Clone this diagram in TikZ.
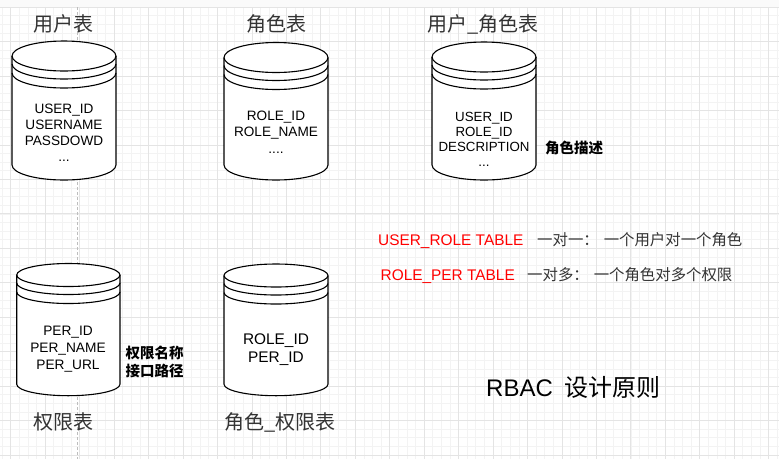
\documentclass[tikz,border=0pt]{standalone}
\usepackage{fontspec}
\setmainfont{Liberation Sans}
\newfontfamily\cjk{Noto Sans CJK SC}
\definecolor{gridminor}{HTML}{F3F3F3}
\definecolor{gridmajor}{HTML}{E4E4E4}
\definecolor{topstrip}{HTML}{FAFAFA}
\definecolor{guidegray}{HTML}{BDBDBD}
\definecolor{titlegray}{HTML}{333333}
\definecolor{notegray}{HTML}{333333}
\definecolor{redtxt}{HTML}{FF0000}
\newcommand\dstore[6]{%
  \pgfmathsetmacro\dcx{(#1+#3)/2}%
  \pgfmathsetmacro\drx{(#3-#1)/2}%
  \pgfmathsetmacro\dya{#2+#5}%
  \pgfmathsetmacro\dyb{#4-#5}%
  \pgfmathsetmacro\dyc{#2+#5+8}%
  \pgfmathsetmacro\dyd{#2+#5+17}%
  \pgfmathsetmacro\dym{(#2+#4)/2}%
  \fill[white] (#1,\dya) -- (#1,\dyb) arc[start angle=180,end angle=360,x radius=\drx pt,y radius=#5pt]
     -- (#3,\dya) arc[start angle=0,end angle=180,x radius=\drx pt,y radius=#5pt] -- cycle;
  \draw[dsline] (#1,\dya) -- (#1,\dyb) arc[start angle=180,end angle=360,x radius=\drx pt,y radius=#5pt] -- (#3,\dya);
  \draw[dsline] (\dcx,\dya) ellipse[x radius=\drx pt,y radius=#5pt];
  \draw[dsline] (#1,\dyc) arc[start angle=180,end angle=360,x radius=\drx pt,y radius=#5pt];
  \draw[dsline] (#1,\dyd) arc[start angle=180,end angle=360,x radius=\drx pt,y radius=#5pt];
  \coordinate (#6) at (\dcx,\dym);
}
\begin{document}
\begin{tikzpicture}[x=1pt,y=-1pt,
  dsline/.style={draw=black,line width=1.1pt},
  minorline/.style={draw=gridminor,line width=0.8pt},
  majorline/.style={draw=gridmajor,line width=0.9pt},
  guideline/.style={draw=guidegray,line width=0.8pt,dash pattern=on 3pt off 2pt},
  title/.style={font=\cjk\fontsize{20}{24}\selectfont,text=titlegray,inner sep=0pt},
  dtext/.style={align=center,inner sep=0pt,text=black},
  cnote/.style={font=\cjk\bfseries\fontsize{14.5}{17.4}\selectfont,text=black,inner sep=0pt,align=left},
  redlbl/.style={font=\fontsize{15.4}{18}\selectfont,text=redtxt,inner sep=0pt,anchor=base west},
  graylbl/.style={font=\cjk\fontsize{15.4}{18}\selectfont,text=notegray,inner sep=0pt,anchor=base west}]
\useasboundingbox (0,0) rectangle (779,459);
\fill[white] (0,0) rectangle (779,459);
\fill[topstrip] (0,0) rectangle (779,7.2);
% grid
\foreach \i in {0,...,90} {\draw[minorline] ({2.19+\i*8.6125},7.2) -- ({2.19+\i*8.6125},459);}
\foreach \j in {0,...,52} {\draw[minorline] (0,{7.2+\j*8.6125}) -- (779,{7.2+\j*8.6125});}
\foreach \k in {0,...,22} {\draw[majorline] ({10.8+\k*34.45},7.2) -- ({10.8+\k*34.45},459);}
\foreach \k in {0,...,13} {\draw[majorline] (0,{7.2+\k*34.45}) -- (779,{7.2+\k*34.45});}
% guide
\coordinate (gtop) at (77,7.2);
\coordinate (gbot) at (77,459);
\draw[guideline] (gtop) -- (gbot);
% cylinders
\dstore{12}{41}{116}{180}{15}{c1}
\dstore{224}{42.5}{328}{180}{15}{c2}
\dstore{432}{42}{536}{180}{15}{c3}
\dstore{16.7}{263.5}{120}{395.7}{11.5}{c4}
\dstore{224}{264}{328}{395.7}{11.5}{c5}
% titles
\node[title] (t1) at (63,24) {用户表};
\node[title] (t2) at (276.5,24) {角色表};
\node[title] (t3) at (483,24) {用户\_角色表};
\node[title] (t4) at (63,421.7) {权限表};
\node[title] (t5) at (280,422.7) {角色\_权限表};
% cylinder texts
\node[dtext,font=\fontsize{13.6}{16.3}\selectfont] (d1) at (64,132.7) {USER\_ID\\USERNAME\\PASSDOWD\\...};
\node[dtext,font=\fontsize{13.6}{16.5}\selectfont] (d2) at (276,131.9) {ROLE\_ID\\ROLE\_NAME\\....};
\node[dtext,font=\fontsize{13.3}{15}\selectfont] (d3) at (484,139.5) {USER\_ID\\ROLE\_ID\\DESCRIPTION\\...};
\node[dtext,font=\fontsize{13.7}{17.2}\selectfont] (d4) at (68,349) {PER\_ID\\PER\_NAME\\PER\_URL};
\node[dtext,font=\fontsize{15.4}{18.3}\selectfont] (d5) at (276,349.5) {ROLE\_ID\\PER\_ID};
% notes
\node[cnote] (n1) at (574,148) {角色描述};
\node[cnote] (n2) at (154.5,362) {权限名称\\接口路径};
% relations
\node[redlbl] (r1) at (378,245) {USER\_ROLE TABLE};
\node[redlbl] (r2) at (380.5,280) {ROLE\_PER TABLE};
\node[graylbl] (g1) at (537,245) {一对一：\hspace{5pt}一个用户对一个角色};
\node[graylbl] (g2) at (527,280) {一对多：\hspace{5pt}一个角色对多个权限};
% heading
\node[inner sep=0pt,anchor=base west,text=black,font=\fontsize{24}{28}\selectfont] (h1) at (486,396.7) {RBAC\hspace{11.3pt}{\cjk 设计原则}};
\end{tikzpicture}
\end{document}
